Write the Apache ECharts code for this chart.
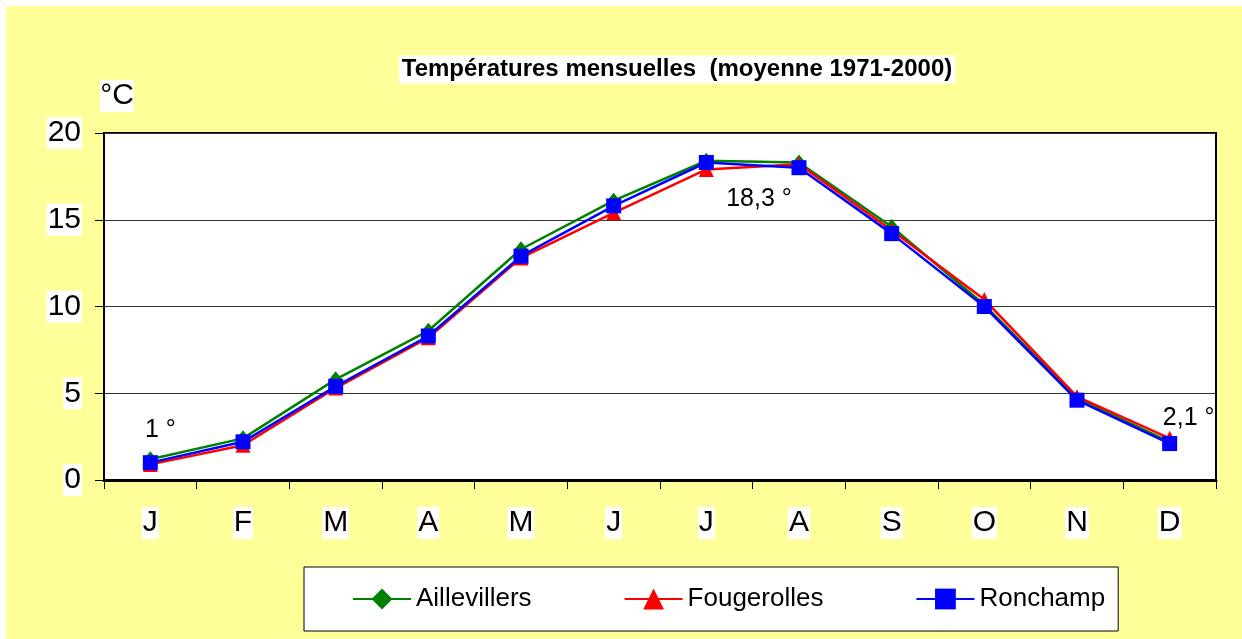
<!DOCTYPE html>
<html>
<head>
<meta charset="utf-8">
<script src="https://cdn.jsdelivr.net/npm/echarts@6/dist/echarts.min.js"></script>
<style>
  html, body { margin: 0; padding: 0; background: #fff; }
  #main { position: absolute; left: 6px; top: 6px; width: 1236px; height: 633px; }
</style>
</head>
<body>
<div id="main"></div>
<script>
// mois
var mois = ['J', 'F', 'M', 'A', 'M', 'J', 'J', 'A', 'S', 'O', 'N', 'D'];

// températures moyennes (°C)
var aillevillers = [1.2, 2.4, 5.8, 8.6, 13.3, 16.1, 18.4, 18.3, 14.6, 10.1, 4.7, 2.2];
var fougerolles  = [0.9, 2.0, 5.3, 8.2, 12.8, 15.4, 17.9, 18.2, 14.4, 10.4, 4.8, 2.4];
var ronchamp     = [1.0, 2.2, 5.4, 8.3, 12.9, 15.8, 18.3, 18.0, 14.2, 10.0, 4.6, 2.1];

// étiquettes posées sur la courbe Ronchamp
var notes = { 0: '1 °', 7: '18,3 °', 11: '2,1 °' };
var noteOffset = { 0: [10, -33], 7: [-40, 31], 11: [19, -25] };

var myChart = echarts.init(document.getElementById('main'));

var ronchampData = ronchamp.map(function (v, i) {
    if (notes[i] === undefined) return v;
    return {
        value: v,
        label: {
            show: true,
            position: 'inside',
            offset: noteOffset[i],
            formatter: notes[i],
            color: '#000',
            fontSize: 25,
            fontFamily: 'Liberation Sans, Arial, sans-serif'
        }
    };
});

function serie(nom, data, couleur, symbole, taille) {
    return {
        name: nom,
        type: 'line',
        data: data,
        symbol: symbole,
        symbolSize: taille,
        showAllSymbol: true,
        animation: false,
        lineStyle: { color: couleur, width: 2.5 },
        itemStyle: { color: couleur },
        label: { show: false }
    };
}

myChart.setOption({
    backgroundColor: '#FFFF99',
    textStyle: { fontFamily: 'Liberation Sans, Arial, sans-serif' },
    graphic: [
        {
            type: 'text', x: 671, y: 63.5,
            style: {
                text: 'Températures mensuelles  (moyenne 1971-2000)',
                align: 'center', verticalAlign: 'middle',
                font: 'bold 24px "Liberation Sans", Arial, sans-serif',
                fill: '#000',
                backgroundColor: '#fff',
                padding: [2, 3]
            }
        },
        {
            type: 'text', x: 111, y: 90,
            style: {
                text: '°C',
                align: 'center', verticalAlign: 'middle',
                font: '30px "Liberation Sans", Arial, sans-serif',
                fill: '#000',
                backgroundColor: '#fff',
                padding: [1, 0]
            }
        }
    ],
    grid: {
        left: 98, top: 127, right: 26, bottom: 159,
        show: true,
        backgroundColor: '#fff',
        borderColor: '#000',
        borderWidth: 2
    },
    legend: {
        data: ['Aillevillers', 'Fougerolles', 'Ronchamp'],
        left: 298, top: 561,
        orient: 'horizontal',
        padding: [19, 13, 19, 48],
        itemGap: 92,
        itemWidth: 58,
        itemHeight: 26,
        backgroundColor: '#fff',
        borderColor: '#000',
        borderWidth: 1,
        textStyle: { fontSize: 26, color: '#000' }
    },
    xAxis: {
        type: 'category',
        data: mois,
        boundaryGap: true,
        axisLine: { lineStyle: { color: '#000', width: 3 } },
        axisTick: { show: true, length: 9, inside: false, lineStyle: { color: '#000', width: 1 } },
        axisLabel: {
            fontSize: 30, color: '#000', margin: 27,
            backgroundColor: '#fff', padding: [1, 1]
        },
        splitLine: { show: false }
    },
    yAxis: {
        type: 'value',
        min: 0, max: 20, interval: 5,
        axisLine: { show: true, lineStyle: { color: '#000', width: 2 } },
        axisTick: { show: true, length: 9, lineStyle: { color: '#000', width: 1 } },
        axisLabel: {
            fontSize: 30, color: '#000', margin: 22,
            backgroundColor: '#fff', padding: [1, 1]
        },
        splitLine: { show: true, lineStyle: { color: '#333', width: 1 } }
    },
    series: [
        serie('Aillevillers', aillevillers, '#008000', 'diamond', [13, 16]),
        serie('Fougerolles', fougerolles, '#FF0000', 'triangle', 15),
        serie('Ronchamp', ronchampData, '#0000FF', 'rect', 15)
    ]
});
</script>
</body>
</html>
